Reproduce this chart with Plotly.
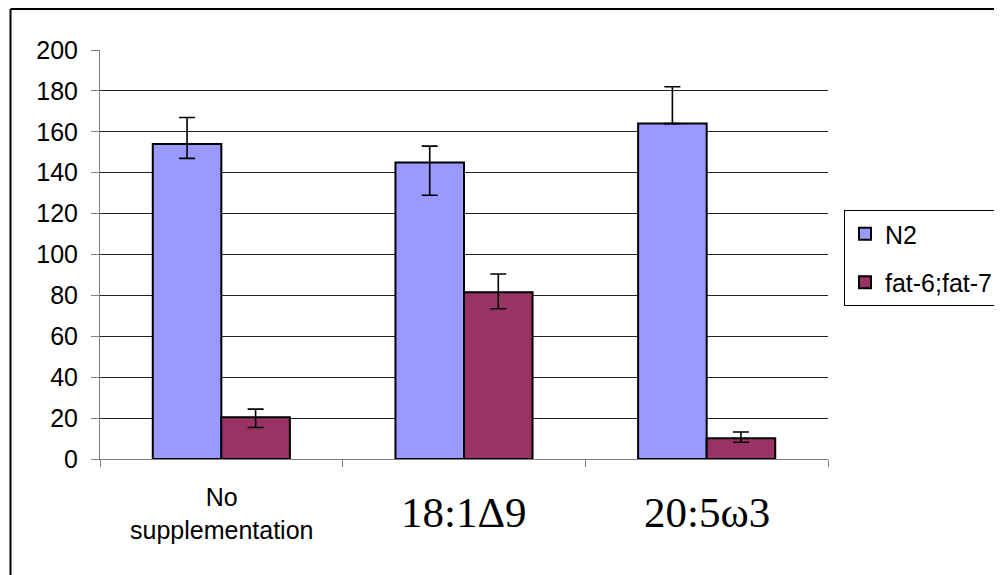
import plotly.graph_objects as go

categories = ["No supplementation", "18:1Δ9", "20:5ω3"]
tick_labels = ["No<br>supplementation", "18:1Δ9", "20:5ω3"]
tick_fonts = ["Liberation Sans, Arial", "Liberation Serif, Times New Roman", "Liberation Serif, Times New Roman"]
tick_sizes = [25, 43, 43]
n2 = [154, 145, 164]
n2_plus = [13, 8, 18]
n2_minus = [7, 16, 0]
fat = [20.4, 81.5, 10.2]
fat_plus = [4, 9, 3]
fat_minus = [5, 8, 2]
series_names = ["N2", "fat-6;fat-7"]
colors = ["#9999FF", "#993366"]

fig = go.Figure()
for name, vals, ep, em, col, grp in [
    (series_names[0], n2, n2_plus, n2_minus, colors[0], "a"),
    (series_names[1], fat, fat_plus, fat_minus, colors[1], "b"),
]:
    fig.add_trace(go.Bar(
        x=categories, y=vals, name=name, legendgroup=grp,
        marker=dict(color=col, line=dict(color="black", width=2)),
        error_y=dict(type="data", symmetric=False, array=ep, arrayminus=em,
                     color="black", thickness=1.6, width=8),
    ))

# page offset (body margin) compensation
OFF = 8
L, R, T, B = 100 - OFF, 828 - OFF, 50 - OFF, 459 - OFF
W, H = 1002 - OFF, 575 - OFF


def px(x):  # page x -> paper
    return (x - 100) / 728


def py(y):  # page y -> paper
    return (459 - y) / 409


annotations = []
for cat, lab, fam, sz, yy in zip(categories, tick_labels, tick_fonts, tick_sizes, [514, 512, 512]):
    annotations.append(dict(
        x=cat, xref="x", y=py(yy), yref="paper", text=lab, showarrow=False,
        xanchor="center", yanchor="middle",
        font=dict(family=fam, size=sz, color="black"),
    ))

fig.update_layout(
    width=W, height=H,
    margin=dict(l=L, r=W - R, t=T, b=H - B, pad=0, autoexpand=False),
    paper_bgcolor="white", plot_bgcolor="white",
    font=dict(family="Liberation Sans, Arial", size=25, color="black"),
    barmode="group", bargap=0.435, bargroupgap=0,
    showlegend=True,
    legend=dict(
        xref="container", yref="container",
        x=(844 - OFF) / W, y=1 - (210 - OFF) / H, xanchor="left", yanchor="top",
        bordercolor="black", borderwidth=1, bgcolor="white",
        font=dict(size=25), tracegroupgap=13,
    ),
    xaxis=dict(
        tickson="boundaries", ticks="outside", ticklen=7, tickcolor="#808080",
        showline=True, linecolor="#808080", linewidth=1,
        showgrid=False, showticklabels=False,
    ),
    yaxis=dict(
        range=[0, 200], dtick=20, ticks="outside", ticklen=8, tickcolor="#808080",
        showline=True, linecolor="#808080", linewidth=1,
        showgrid=True, gridcolor="#222222", gridwidth=1,
        zeroline=False, ticklabelstandoff=8, tickfont=dict(size=25),
    ),
    annotations=annotations,
    shapes=[
        dict(type="line", xref="paper", yref="paper",
             x0=px(10.5), x1=px(1020), y0=py(9), y1=py(9),
             line=dict(color="black", width=2)),
        dict(type="line", xref="paper", yref="paper",
             x0=px(10.5), x1=px(10.5), y0=py(9), y1=py(600),
             line=dict(color="black", width=2)),
    ],
)

fig.write_html("out.html")
